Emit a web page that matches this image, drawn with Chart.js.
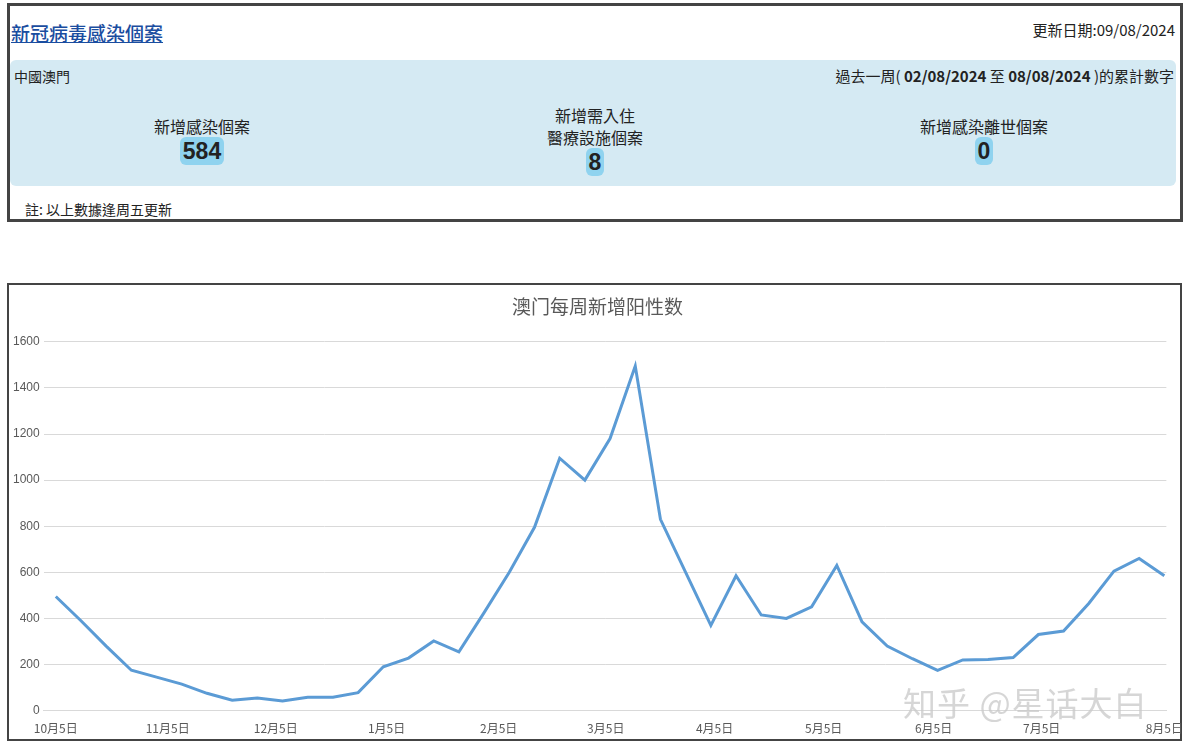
<!DOCTYPE html>
<html>
<head>
<meta charset="utf-8">
<script src="https://cdn.jsdelivr.net/npm/chart.js@4/dist/chart.umd.min.js"></script>
<style>
  body { margin: 0; background: #fff; font-family: "Noto Sans CJK TC", "Noto Sans", sans-serif; width: 1186px; height: 746px; position: relative; overflow: hidden; }
  .box { position: absolute; border: 3px solid #444; box-sizing: border-box; background: #fff; }
  #info { left: 7px; top: 3px; width: 1176px; height: 219px; }
  #info .title { position: absolute; left: 1px; top: 13px; font-size: 19px; color: #1a4da0; text-decoration: underline; font-weight: 500; }
  #info .upd { position: absolute; right: 5px; top: 13px; font-size: 15px; color: #222; }
  #info .panel { position: absolute; left: 0px; top: 54px; width: 1166px; height: 126px; background: #d5eaf3; border-radius: 6px; }
  .panel .loc { position: absolute; left: 4px; top: 6px; font-size: 14px; color: #222; }
  .panel .week { position: absolute; right: 2px; top: 5px; font-size: 15px; color: #222; }
  .stat { position: absolute; top: 40px; width: 260px; text-align: center; font-size: 16px; color: #222; line-height: 22px; }
  .stat .num { display: inline-block; background: #8fd3ef; border-radius: 6px; padding: 0 3px; font-size: 23px; font-weight: bold; font-family: "Liberation Sans", Arial, sans-serif; line-height: 28px; }
  #info .note { position: absolute; left: 15px; top: 193px; font-size: 14px; color: #222; }
  #chartBox { left: 7px; top: 283px; width: 1175px; height: 458px; border-width: 2px; }
  #chartWrap { position: absolute; left: 0; top: 0; width: 1177px; height: 100%; }
  #wm { position: absolute; left: 903px; top: 678px; font-size: 33px; color: rgba(200,200,200,0.75); letter-spacing: 1px; }
</style>
</head>
<body>
<div class="box" id="info">
  <div class="title">新冠病毒感染個案</div>
  <div class="upd">更新日期:09/08/2024</div>
  <div class="panel">
    <div class="loc">中國澳門</div>
    <div class="week">過去一周( <b>02/08/2024</b> 至 <b>08/08/2024</b> )的累計數字</div>
    <div class="stat" style="left:62px; top:55px">新增感染個案<br><span class="num">584</span></div>
    <div class="stat" style="left:455px; top:44px">新增需入住<br>醫療設施個案<br><span class="num">8</span></div>
    <div class="stat" style="left:844px; top:55px">新增感染離世個案<br><span class="num">0</span></div>
  </div>
  <div class="note">註: 以上數據逢周五更新</div>
</div>
<div class="box" id="chartBox"><div id="chartWrap"><canvas id="c"></canvas></div></div>
<div id="wm">知乎 @星话大白</div>
<script>
// weekly new positive cases, Macau (Oct 2023 - Aug 2024)
const weeklyCases = [495, 390, 280, 175, 145, 115, 75, 45, 55, 42, 58, 58, 78, 190, 228, 302, 255, 425, 600, 795,
  1095, 1000, 1180, 1495, 830, 600, 370, 585, 415, 400, 450, 630, 385, 280, 225, 175, 220, 222, 230, 330,
  345, 465, 605, 660, 585];
// x-axis labels and where they sit, in weeks from the first point
const tickLabels = ['10月5日', '11月5日', '12月5日', '1月5日', '2月5日', '3月5日', '4月5日', '5月5日', '6月5日', '7月5日', '8月5日'];
const tickWeeks = [0, 4.44, 8.73, 13.13, 17.58, 21.83, 26.15, 30.48, 34.84, 39.13, 44];
const yTicks = [0, 200, 400, 600, 800, 1000, 1200, 1400, 1600];

const points = weeklyCases.map((v, i) => ({ x: i, y: v }));

new Chart(document.getElementById('c'), {
  type: 'line',
  data: {
    datasets: [{
      data: points,
      borderColor: '#5b9bd5',
      borderWidth: 3,
      pointRadius: 0,
      tension: 0,
      fill: false
    }]
  },
  options: {
    responsive: true,
    maintainAspectRatio: false,
    animation: false,
    layout: { padding: { left: 0, right: 0, top: 0, bottom: 0 } },
    plugins: {
      legend: { display: false },
      tooltip: { enabled: false },
      title: {
        display: true,
        text: '澳门每周新增阳性数',
        color: '#595959',
        font: { size: 19, family: '"Noto Sans CJK SC", sans-serif', weight: 'normal' },
        padding: { top: 10, bottom: 24 }
      }
    },
    scales: {
      x: {
        type: 'linear',
        min: -0.48,
        max: 44.08,
        grid: { display: false },
        border: { display: true, color: '#d9d9d9' },
        afterBuildTicks: axis => { axis.ticks = tickWeeks.map(v => ({ value: v })); },
        ticks: {
          autoSkip: false,
          maxRotation: 0,
          color: '#595959',
          font: { size: 12, family: '"Noto Sans CJK SC", sans-serif' },
          padding: 3,
          callback: v => tickLabels[tickWeeks.indexOf(v)]
        }
      },
      y: {
        min: 0,
        max: 1600,
        afterBuildTicks: axis => { axis.ticks = yTicks.map(v => ({ value: v })); },
        grid: { color: '#d9d9d9', drawTicks: false },
        border: { display: false },
        ticks: {
          color: '#595959',
          font: { size: 12, family: '"Liberation Sans", sans-serif' },
          padding: 4,
          callback: v => String(v)
        }
      }
    }
  }
});
</script>
</body>
</html>
